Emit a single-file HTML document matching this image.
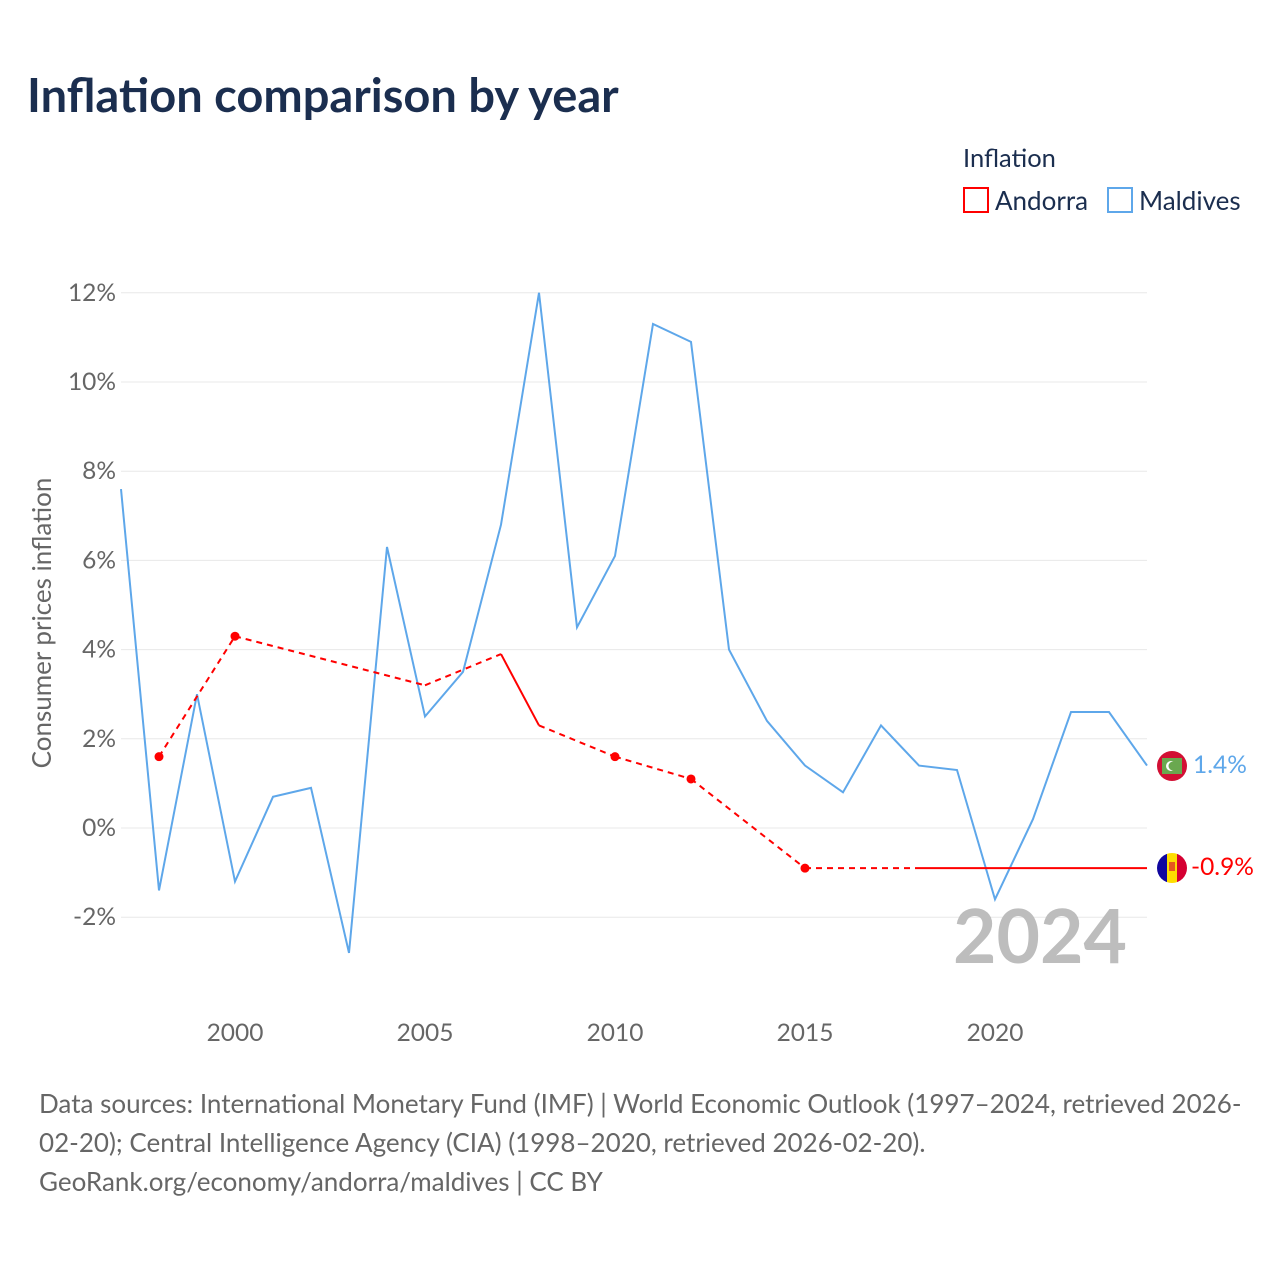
<!DOCTYPE html>
<html><head><meta charset="utf-8"><style>
body{margin:0;background:#fff;font-family:"Liberation Sans",sans-serif}
</style></head><body>
<svg width="1280" height="1280" xmlns="http://www.w3.org/2000/svg" font-family="Lato,'Liberation Sans',sans-serif">
<text x="27" y="112" font-size="47" font-weight="bold" fill="#1b2e4f">Inflation comparison by year</text>
<text x="963" y="167" font-size="25.5" fill="#1b2e4f">Inflation</text>
<g><rect x="964" y="188" width="24" height="24" fill="none" stroke="red" stroke-width="2"/><text x="995" y="210" font-size="26" fill="#1b2e4f">Andorra</text></g>
<g><rect x="1108" y="188" width="24" height="24" fill="none" stroke="#5ea7ea" stroke-width="2"/><text x="1139" y="210" font-size="26" fill="#1b2e4f">Maldives</text></g>
<text transform="translate(51,623) rotate(-90)" text-anchor="middle" font-size="26" fill="#666">Consumer prices inflation</text>
<g id="grid"></g><g id="yt"></g><g id="xt"></g>
<text x="1127" y="963" text-anchor="end" font-size="75" font-weight="bold" fill="#bdbdbd">2024</text>
<g id="plot"></g>
<g><circle cx="1172" cy="766" r="15" fill="#d21034"/><rect x="1162" y="758" width="20" height="16" fill="#6aa84f"/><circle cx="1171" cy="766" r="5" fill="#fff"/><circle cx="1173" cy="766" r="4.5" fill="#6aa84f"/></g>
<text x="1193" y="773" font-size="24.5" fill="#5ea7ea">1.4%</text>
<g><clipPath id="cf"><circle cx="1172" cy="868" r="15"/></clipPath><g clip-path="url(#cf)"><rect x="1157" y="853" width="10" height="30" fill="#10069f"/><rect x="1167" y="853" width="10" height="30" fill="#fedd00"/><rect x="1177" y="853" width="10" height="30" fill="#d50032"/><rect x="1169" y="862" width="6" height="9" fill="#d50032" opacity=".6"/></g></g>
<text x="1191" y="875" font-size="24.5" fill="red">-0.9%</text>
<g font-size="26" fill="#666">
<text x="39" y="1113">Data sources: International Monetary Fund (IMF) | World Economic Outlook (1997–2024, retrieved 2026-</text>
<text x="39" y="1152">02-20); Central Intelligence Agency (CIA) (1998–2020, retrieved 2026-02-20).</text>
<text x="39" y="1191">GeoRank.org/economy/andorra/maldives | CC BY</text></g>
</svg>
<script>
const years=[1997,1998,1999,2000,2001,2002,2003,2004,2005,2006,2007,2008,2009,2010,2011,2012,2013,2014,2015,2016,2017,2018,2019,2020,2021,2022,2023,2024];
const maldives=[7.6,-1.4,3.0,-1.2,0.7,0.9,-2.8,6.3,2.5,3.5,6.8,12.0,4.5,6.1,11.3,10.9,4.0,2.4,1.4,0.8,2.3,1.4,1.3,-1.6,0.2,2.6,2.6,1.4];
const andorra=[null,1.6,null,4.3,null,null,null,null,3.2,null,3.9,2.3,null,1.6,null,1.1,null,null,-0.9,null,null,-0.9,-0.9,-0.9,-0.9,-0.9,-0.9,-0.9];
const yTicks=[-2,0,2,4,6,8,10,12];
const xTicks=[2000,2005,2010,2015,2020];
const X=y=>121+(y-1997)*38, Y=v=>828-v*44.6;
const NS="http://www.w3.org/2000/svg";
function mk(t,a,p){const e=document.createElementNS(NS,t);for(const k in a)e.setAttribute(k,a[k]);document.getElementById(p).appendChild(e);return e;}
yTicks.forEach(v=>{
 const l=mk('line',{x1:121,x2:1147,y1:Y(v),y2:Y(v),stroke:'#e8e8e8'},'grid');
 
 
 const t=mk('text',{x:116,y:Y(v)+8,'text-anchor':'end','font-size':24.5,fill:'#666'},'yt');t.textContent=v+'%';
 
 
});
xTicks.forEach(v=>{
 const t=mk('text',{x:X(v),y:1041,'text-anchor':'middle','font-size':24.5,fill:'#666'},'xt');t.textContent=v;
 
 
});
const mp=mk('polyline',{points:years.map((y,i)=>X(y)+','+Y(maldives[i])).join(' '),fill:'none',stroke:'#5ea7ea','stroke-width':2},'plot');


const idx=andorra.map((v,i)=>v==null?-1:i).filter(i=>i>=0);
for(let k=0;k<idx.length-1;k++){const a=idx[k],b=idx[k+1];
 const s=mk('line',{x1:X(years[a]),y1:Y(andorra[a]),x2:X(years[b]),y2:Y(andorra[b]),stroke:'red','stroke-width':2,'stroke-dasharray':b-a>1?'6,5':'none'},'plot');
 
 
}
idx.forEach(i=>{if(andorra[i-1]==null&&andorra[i+1]==null&&years[i]!==2005){
 const c=mk('circle',{cx:X(years[i]),cy:Y(andorra[i]),r:4.5,fill:'red'},'plot');
 
 
}});
</script>
</body></html>
